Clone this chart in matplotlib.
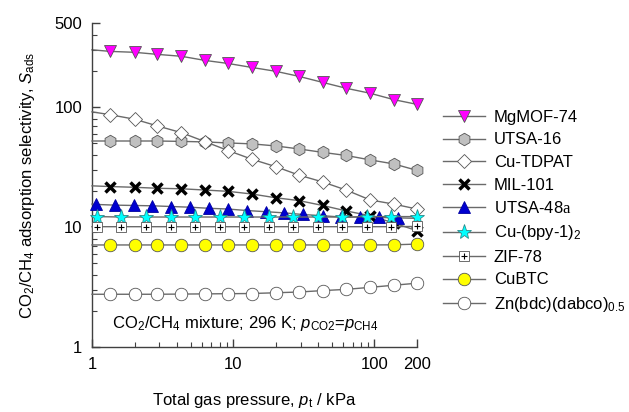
import matplotlib
matplotlib.use("Agg")
import matplotlib.pyplot as plt
from matplotlib.ticker import FixedLocator, NullFormatter
from matplotlib.lines import Line2D

plt.rcParams['font.family'] = ['Liberation Sans', 'DejaVu Sans']
plt.rcParams['mathtext.fontset'] = 'custom'
plt.rcParams['mathtext.rm'] = 'Liberation Sans'
plt.rcParams['mathtext.it'] = 'Liberation Sans:italic'
plt.rcParams['mathtext.sf'] = 'Liberation Serif'

# total gas pressure, kPa (three different sampling grids)
p_a = [1.35, 2.0, 2.9, 4.3, 6.3, 9.2, 13.6, 20, 29, 43, 63, 93, 137, 200]
p_b = [1.08, 1.6, 2.4, 3.6, 5.4, 8.0, 11.9, 17.8, 26.5, 39.5, 59, 88, 131, 200]
p_c = [1.07, 1.45, 1.97, 2.68, 3.65, 4.96, 6.74, 9.2, 12.5, 17, 23, 31, 43, 58, 79, 107, 146]

# adsorption selectivity S_ads
mgmof74 = [290, 285, 274, 264, 244, 230, 213, 198, 180, 160, 143, 130, 115, 105]
utsa16 = [52, 52, 52, 51.6, 51.1, 50.1, 49.2, 47.3, 44.7, 41.8, 39.4, 36.2, 33.5, 29.6]
cutdpat = [86, 79, 69.5, 61, 51.4, 43.3, 36.6, 31.8, 27.1, 23.7, 20.3, 16.8, 15.5, 14.1]
mil101 = [21.7, 21.4, 21.0, 20.8, 20.3, 19.8, 18.8, 17.5, 16.6, 15.1, 13.6, 12.4, 10.8, 9.3]
utsa48a = [15.4, 15.2, 15.1, 15.0, 14.8, 14.6, 14.3, 14.1, 13.7, 13.4, 13.1, 12.7, 12.4, 12.1, 12.05, 12.0, 11.9]
cubpy = [12.2, 12.1, 12.1, 12.1, 12.1, 12.1, 12.1, 12.1, 12.1, 12.1, 12.1, 12.2, 12.2, 12.2]
zif78 = [10.05, 10.05, 10.05, 10.05, 10.05, 10.05, 10.05, 10.05, 10.05, 10.05, 10.05, 10.05, 10.05, 10.1]
cubtc = [7.08, 7.08, 7.08, 7.08, 7.08, 7.08, 7.08, 7.08, 7.08, 7.08, 7.08, 7.08, 7.1, 7.2]
znbdc = [2.75, 2.75, 2.75, 2.76, 2.77, 2.78, 2.79, 2.83, 2.87, 2.95, 3.02, 3.14, 3.27, 3.40]

# fitted curve values at the ends of the axis (1 kPa and 200 kPa)
fit_start = [299, 52, 91, 22, 15.5, 12.2, 10.05, 7.08, 2.75]
utsa48a_end = 11.8

labels = ["MgMOF-74", "UTSA-16", "Cu-TDPAT", "MIL-101", r"UTSA-48$\mathsf{a}$",
          r"Cu-(bpy-1)$_2$", "ZIF-78", "CuBTC", r"Zn(bdc)(dabco)$_{0.5}$"]

line_col = '#6a6a6a'
edge = '#555555'

fig = plt.figure(figsize=(6.29, 4.12), dpi=100)
ax = fig.add_axes([92 / 629, 1 - 347 / 412, 325 / 629, 324 / 412])

series = [
    (p_a, mgmof74, dict(marker='v', ms=9, mfc='#ff00ff', mec=edge, mew=0.6)),
    (p_a, utsa16, dict(marker='h', ms=9, mfc='#c0c0c0', mec=edge, mew=0.6)),
    (p_a, cutdpat, dict(marker='D', ms=6.8, mfc='white', mec=edge, mew=0.6)),
    (p_a, mil101, dict(marker='x', ms=7, mfc='black', mec='black', mew=2.5)),
    (p_c, utsa48a, dict(marker='^', ms=9, mfc='#0000d0', mec='#0000a0', mew=0.6)),
    (p_b, cubpy, dict(marker='*', ms=11, mfc='#00ffff', mec='#2a8c8c', mew=0.6)),
    (p_b, zif78, dict(marker='s', ms=7, mfc='white', mec=edge, mew=0.6)),
    (p_a, cubtc, dict(marker='o', ms=9, mfc='#ffff00', mec='#555555', mew=0.6)),
    (p_a, znbdc, dict(marker='o', ms=9, mfc='white', mec=edge, mew=0.6)),
]

handles = []
for i, (p, s, style) in enumerate(series):
    lx = [1] + p
    ly = [fit_start[i]] + s
    if p[-1] < 200:
        lx = lx + [200]
        ly = ly + [utsa48a_end]
    ax.plot(lx, ly, color=line_col, lw=1, zorder=2 + 2 * i, clip_on=False)
    ax.plot(p, s, ls='none', zorder=3 + 2 * i, clip_on=False, **style)
    h = Line2D([], [], color=line_col, lw=1, **style)
    if i == 6:
        ax.plot(p, s, ls='none', marker='+', ms=4, mec='black', mew=0.8,
                zorder=3 + 2 * i, clip_on=False)
        h = (h, Line2D([], [], ls='none', marker='+', ms=4, mec='black', mew=0.8))
    handles.append(h)

ax.set_xscale('log')
ax.set_yscale('log')
ax.set_xlim(1, 200)
ax.set_ylim(1, 500)

ax.xaxis.set_major_locator(FixedLocator([1, 10, 100, 200]))
ax.set_xticklabels(['1', '10', '100', '200'])
ax.xaxis.set_minor_locator(FixedLocator([2, 3, 4, 5, 6, 7, 8, 9, 20, 30, 40, 50, 60, 70, 80, 90]))
ax.yaxis.set_major_locator(FixedLocator([1, 10, 100, 500]))
ax.set_yticklabels(['1', '10', '100', '500'])
ax.yaxis.set_minor_locator(FixedLocator([2, 3, 4, 5, 6, 7, 8, 9, 20, 30, 40, 50, 60, 70, 80, 90,
                                         200, 300, 400]))
ax.xaxis.set_minor_formatter(NullFormatter())
ax.yaxis.set_minor_formatter(NullFormatter())

for side in ['top', 'right']:
    ax.spines[side].set_visible(False)
for side in ['left', 'bottom']:
    ax.spines[side].set_color('#404040')
    ax.spines[side].set_linewidth(1)
ax.tick_params(which='both', direction='in', colors='#404040', labelcolor='black', labelsize=12)
ax.tick_params(which='major', length=6, width=1, pad=7)
ax.tick_params(which='minor', length=3.5, width=0.8)

ax.set_xlabel(r"Total gas pressure, $p_{\rm t}$ / kPa", fontsize=12)
ax.xaxis.set_label_coords(0.5, -0.135)
ax.set_ylabel(r"CO$_2$/CH$_4$ adsorption selectivity, $S_{\rm ads}$", fontsize=12)
ax.yaxis.set_label_coords(-0.17, 0.5)

ax.text(0.062, 0.074, r"CO$_2$/CH$_4$ mixture; 296 K; $p_{\rm CO2}$=$p_{\rm CH4}$",
        transform=ax.transAxes, fontsize=12, va='center', ha='left')

ax.legend(handles, labels, loc='upper left', bbox_to_anchor=(443 / 629, 1 - 110 / 412),
          bbox_transform=fig.transFigure, frameon=False, fontsize=12, handlelength=2.5,
          handletextpad=0.55, labelspacing=0.45, borderpad=0, borderaxespad=0)

fig.savefig("out.png", dpi=100)
